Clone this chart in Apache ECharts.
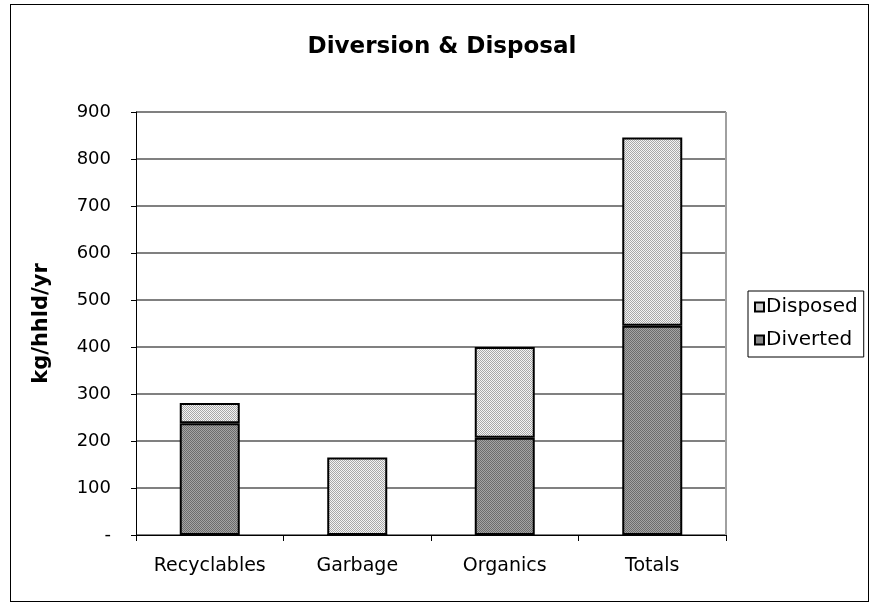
<!DOCTYPE html>
<html><head><meta charset="utf-8">
<script src="https://cdn.jsdelivr.net/npm/echarts@6/dist/echarts.min.js"></script>
<style>html,body{margin:0;padding:0;background:#fff}#frame{position:absolute;left:10px;top:4px;width:859px;height:598px;border:1px solid #000;box-sizing:border-box}#c{position:absolute;left:0;top:0;width:871px;height:605px}</style>
</head><body><div id="frame"></div><div id="c"></div>
<script>
const categories = ['Recyclables', 'Garbage', 'Organics', 'Totals'];
const diverted = [238, 0, 207, 445];
const disposed = [43, 165, 193, 401];
const yTicks = [0, 100, 200, 300, 400, 500, 600, 700, 800, 900];

function pattern(a, b) {
  const c = document.createElement('canvas');
  c.width = 2; c.height = 2;
  const g = c.getContext('2d');
  g.fillStyle = a; g.fillRect(0, 0, 2, 2);
  g.fillStyle = b; g.fillRect(0, 0, 1, 1); g.fillRect(1, 1, 1, 1);
  return { image: c, repeat: 'repeat' };
}
const lightFill = pattern('#f4f4f4', '#a8a8a8');
const darkFill = pattern('#a4a4a4', '#6c6c6c');

const chart = echarts.init(document.getElementById('c'), null, { renderer: 'canvas' });
const font = 'DejaVu Sans, sans-serif';
chart.setOption({
  animation: false,
  title: { text: 'Diversion & Disposal', left: 437, top: 31, textAlign: 'center',
    textStyle: { fontFamily: font, fontSize: 23, fontWeight: 'bold', color: '#000' } },
  grid: { left: 136, right: 145, top: 112, bottom: 70 },
  legend: {
    data: ['Disposed', 'Diverted'], orient: 'vertical', left: 748, top: 291,
    itemWidth: 9, itemHeight: 9, itemGap: 13, borderColor: '#000', borderWidth: 1,
    borderRadius: 0, padding: [6, 6, 7, 6], icon: 'rect',
    textStyle: { fontFamily: font, fontSize: 20, color: '#000', padding: [0, 0, 0, -3] }
  },
  xAxis: {
    type: 'category', data: categories,
    axisLine: { lineStyle: { color: '#000', width: 1 } },
    axisTick: { show: true, length: 6, lineStyle: { color: '#000' } },
    axisLabel: { fontFamily: font, fontSize: 19, color: '#000', margin: 22 },
    splitLine: { show: false }
  },
  yAxis: {
    type: 'value', min: 0, max: 900, interval: 100,
    name: 'kg/hhld/yr', nameLocation: 'middle', nameGap: 84,
    nameTextStyle: { fontFamily: font, fontSize: 21, fontWeight: 'bold', color: '#000' },
    axisLine: { show: true, lineStyle: { color: '#000' } },
    axisTick: { show: true, length: 5, lineStyle: { color: '#000' } },
    axisLabel: { fontFamily: font, fontSize: 18, color: '#000', margin: 25,
      formatter: v => (yTicks.indexOf(v) >= 0 ? (v === 0 ? '-' : String(v)) : '') },
    splitLine: { show: true, lineStyle: { color: '#808080', width: 2 } }
  },
  graphic: [{ type: 'line', z: 1, shape: { x1: 726, y1: 112, x2: 726, y2: 535 },
    style: { stroke: '#a0a0a0', lineWidth: 2 } }],
  series: [
    { name: 'Diverted', type: 'bar', stack: 's', data: diverted, barWidth: 60,
      itemStyle: { color: darkFill, borderColor: '#000', borderWidth: 2 } },
    { name: 'Disposed', type: 'bar', stack: 's', data: disposed, barWidth: 60,
      itemStyle: { color: lightFill, borderColor: '#000', borderWidth: 2 } }
  ]
});
</script></body></html>
